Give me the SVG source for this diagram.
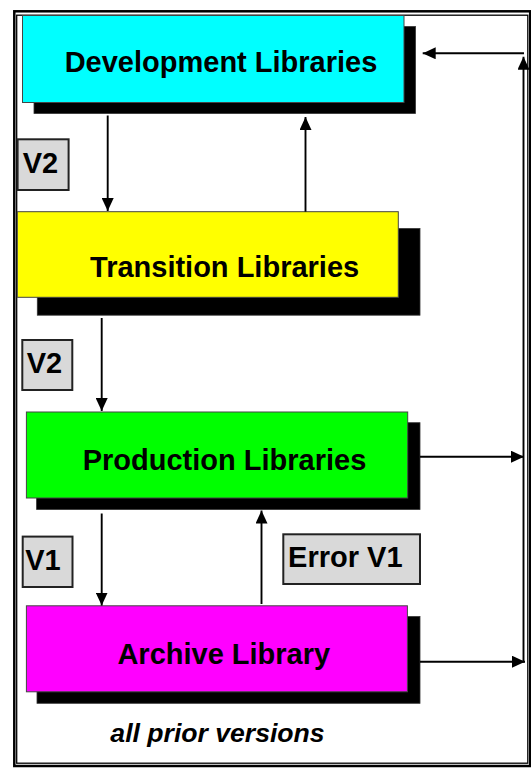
<svg xmlns="http://www.w3.org/2000/svg" width="531" height="768" viewBox="0 0 531 768">
  <style>
    .frame-outer { fill: none; stroke: #000; stroke-width: 2.5; }
    .frame-inner { fill: none; stroke: #000; stroke-width: 1.3; }
    .shadow { fill: #000; stroke: #333; stroke-width: 0.8; }
    .box { stroke: #444; stroke-width: 1; }
    .title { font-family: "Liberation Sans", Arial, sans-serif; font-weight: bold; font-size: 29px; fill: #000; text-anchor: middle; }
    .tag { fill: #d9d9d9; stroke: #222; stroke-width: 2; }
    .tagtext { font-family: "Liberation Sans", Arial, sans-serif; font-weight: bold; font-size: 29px; fill: #000; text-anchor: middle; }
    .note { font-family: "Liberation Sans", Arial, sans-serif; font-weight: bold; font-style: italic; font-size: 26.6px; fill: #000; text-anchor: middle; }
    .conn line { stroke: #000; stroke-width: 1.9; }
  </style>
  <defs>
    <marker id="arrow" viewBox="0 0 13 12" refX="13" refY="6" markerWidth="13" markerHeight="12" markerUnits="userSpaceOnUse" orient="auto">
      <path d="M0,0 L13,6 L0,12 Z" fill="#000"/>
    </marker>
  </defs>

  <rect width="531" height="768" fill="#fff"/>

  <!-- double frame -->
  <rect class="frame-outer" x="14.3" y="11.3" width="515.9" height="754.7"/>
  <rect class="frame-inner" x="16.7" y="15.2" width="511.1" height="748"/>

  <g id="development">
    <rect class="shadow" x="34" y="26.5" width="381.5" height="87"/>
    <rect class="box" x="22.5" y="15.5" width="381.5" height="87" fill="#00ffff"/>
    <text class="title" x="221" y="72">Development Libraries</text>
  </g>

  <g id="transition">
    <rect class="shadow" x="37.3" y="228.5" width="382.7" height="86.7"/>
    <rect class="box" x="17.3" y="211.7" width="381" height="85.6" fill="#ffff00"/>
    <text class="title" x="224.6" y="277">Transition Libraries</text>
  </g>

  <g id="production">
    <rect class="shadow" x="36.6" y="422.7" width="383.4" height="86.8"/>
    <rect class="box" x="26.4" y="412" width="381.3" height="86" fill="#00ff00"/>
    <text class="title" x="224.5" y="470">Production Libraries</text>
  </g>

  <g id="archive">
    <rect class="shadow" x="37" y="616.5" width="383" height="86.8"/>
    <rect class="box" x="26.4" y="605.8" width="381" height="86" fill="#ff00ff"/>
    <text class="title" x="223.8" y="664">Archive Library</text>
  </g>

  <g id="note">
    <text class="note" x="217.5" y="742">all prior versions</text>
  </g>

  <g id="tag-v2-top">
    <rect class="tag" x="17.6" y="139.3" width="51" height="50.7"/>
    <text class="tagtext" x="40.5" y="172.5">V2</text>
  </g>

  <g id="tag-v2-mid">
    <rect class="tag" x="22.3" y="340" width="50" height="50"/>
    <text class="tagtext" x="44.5" y="372.7">V2</text>
  </g>

  <g id="tag-v1">
    <rect class="tag" x="22.7" y="536.6" width="49.8" height="50.4"/>
    <text class="tagtext" x="43" y="569.5">V1</text>
  </g>

  <g id="tag-error-v1">
    <rect class="tag" x="283.3" y="534.3" width="136.7" height="49.7"/>
    <text class="tagtext" x="345.3" y="566.7">Error V1</text>
  </g>

  <g id="connectors" class="conn">
    <!-- development down to transition -->
    <line x1="107.7" y1="115.5" x2="107.7" y2="211" marker-end="url(#arrow)"/>
    <!-- transition up to development -->
    <line x1="305.5" y1="211.7" x2="305.5" y2="117" marker-end="url(#arrow)"/>
    <!-- transition down to production -->
    <line x1="101.7" y1="318" x2="101.7" y2="411" marker-end="url(#arrow)"/>
    <!-- production down to archive -->
    <line x1="101.7" y1="513.5" x2="101.7" y2="605.5" marker-end="url(#arrow)"/>
    <!-- archive up to production -->
    <line x1="261.5" y1="604" x2="261.5" y2="510.5" marker-end="url(#arrow)"/>
    <!-- production out to return rail -->
    <line x1="420" y1="456.7" x2="524" y2="456.7" marker-end="url(#arrow)"/>
    <!-- archive out to return rail -->
    <line x1="420" y1="661.7" x2="525" y2="661.7" marker-end="url(#arrow)"/>
    <!-- return rail up -->
    <line x1="523.5" y1="662.5" x2="523.5" y2="56.7" marker-end="url(#arrow)"/>
    <!-- return rail back into development -->
    <line x1="524" y1="53.3" x2="422.7" y2="53.3" marker-end="url(#arrow)"/>
  </g>
</svg>
